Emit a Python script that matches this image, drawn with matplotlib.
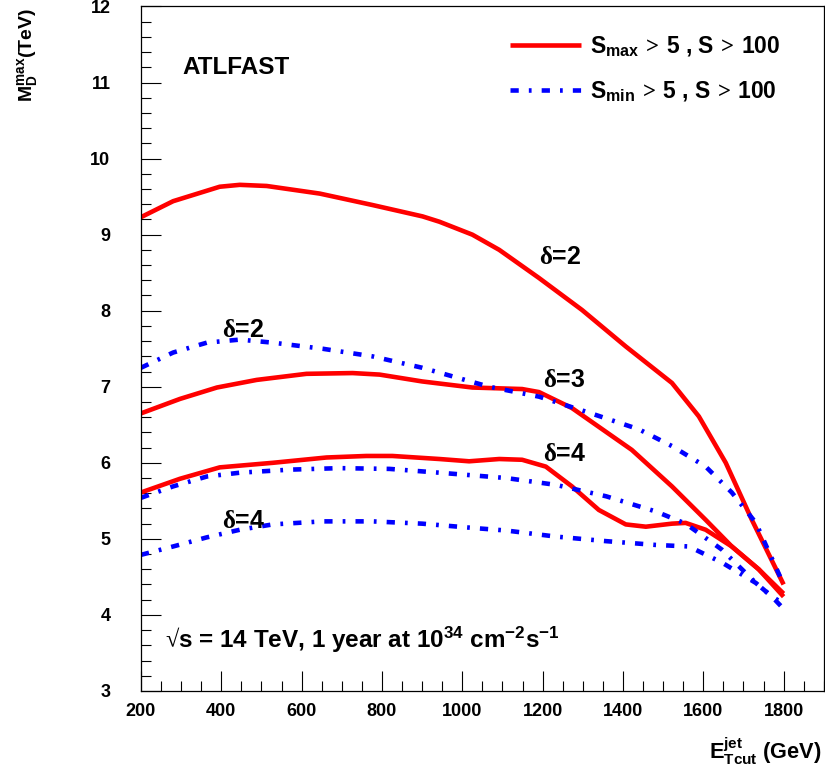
import matplotlib
matplotlib.use('Agg')
import matplotlib.pyplot as plt
from matplotlib.ticker import MultipleLocator

plt.rcParams['font.family'] = ['Liberation Sans', 'DejaVu Sans']
plt.rcParams['font.weight'] = 'bold'
plt.rcParams['mathtext.fontset'] = 'custom'
plt.rcParams['mathtext.rm'] = 'Liberation Serif'
plt.rcParams['mathtext.bf'] = 'Liberation Sans:bold'
plt.rcParams['mathtext.it'] = 'Liberation Sans:bold'

# S_max > 5 , S > 100 (solid red)
x_d2_max = [200, 280, 396, 446, 513, 645, 776, 901, 943, 1025, 1092, 1191, 1298, 1407, 1522, 1589, 1656, 1721, 1800]
y_d2_max = [9.23, 9.44, 9.63, 9.655, 9.64, 9.54, 9.39, 9.24, 9.17, 9.0, 8.80, 8.43, 8.01, 7.53, 7.05, 6.61, 6.0, 5.25, 4.40]

x_d3_max = [200, 297, 389, 488, 612, 727, 794, 900, 1025, 1149, 1191, 1273, 1422, 1522, 1606, 1671, 1738, 1800]
y_d3_max = [6.65, 6.84, 6.99, 7.09, 7.17, 7.18, 7.16, 7.07, 6.99, 6.97, 6.93, 6.72, 6.17, 5.69, 5.25, 4.90, 4.60, 4.28]

x_d4_max = [200, 297, 396, 528, 662, 761, 826, 943, 1017, 1092, 1149, 1208, 1273, 1340, 1407, 1457, 1522, 1556, 1606, 1671, 1738, 1800]
y_d4_max = [5.61, 5.79, 5.94, 6.0, 6.07, 6.09, 6.09, 6.05, 6.02, 6.05, 6.04, 5.95, 5.69, 5.38, 5.19, 5.16, 5.20, 5.21, 5.12, 4.90, 4.60, 4.24]

# S_min > 5 , S > 100 (blue dash-dot)
x_d2_min = [200, 280, 364, 446, 528, 652, 776, 900, 1067, 1191, 1315, 1440, 1522, 1606, 1671, 1731, 1800]
y_d2_min = [7.25, 7.45, 7.58, 7.62, 7.58, 7.50, 7.40, 7.25, 7.0, 6.87, 6.66, 6.44, 6.22, 5.95, 5.61, 5.21, 4.40]

x_d3_min = [200, 280, 364, 446, 570, 694, 819, 943, 1109, 1233, 1358, 1482, 1556, 1646, 1731, 1771, 1800]
y_d3_min = [5.54, 5.69, 5.82, 5.87, 5.91, 5.93, 5.92, 5.87, 5.80, 5.71, 5.56, 5.36, 5.20, 4.86, 4.42, 4.24, 4.15]

x_d4_min = [200, 280, 364, 446, 528, 652, 776, 900, 1035, 1109, 1233, 1358, 1482, 1564, 1646, 1731, 1771, 1800]
y_d4_min = [4.79, 4.90, 5.02, 5.12, 5.19, 5.23, 5.23, 5.20, 5.14, 5.11, 5.03, 4.97, 4.92, 4.90, 4.69, 4.42, 4.24, 4.08]

fig = plt.figure(figsize=(8.25, 7.82), dpi=100)
ax = fig.add_axes([0.1709, 0.1164, 1.0 - 0.1709 - 0.0015, 0.9917 - 0.1164])

red_kw = dict(color='#ff0000', linewidth=3.3, solid_capstyle='butt')
blue_kw = dict(color='#0000ff', linewidth=3.3, dashes=(1.8, 2.2, 0.6, 2.2), dash_capstyle='butt')

ax.plot(x_d2_max, y_d2_max, label=r'S$_{\mathbf{max}}\,\mathrm{>}\,$5 , S$\,\mathrm{>}\,$100', **red_kw)
ax.plot(x_d3_max, y_d3_max, **red_kw)
ax.plot(x_d4_max, y_d4_max, **red_kw)
ax.plot(x_d2_min, y_d2_min, label=r'S$_{\mathbf{min}}\,\mathrm{>}\,$5 , S$\,\mathrm{>}\,$100', **blue_kw)
ax.plot(x_d3_min, y_d3_min, **blue_kw)
ax.plot(x_d4_min, y_d4_min, **blue_kw)

ax.set_xlim(200, 1900)
ax.set_ylim(3, 12)
ax.yaxis.set_major_locator(MultipleLocator(1))
ax.yaxis.set_minor_locator(MultipleLocator(0.2))
ax.xaxis.set_minor_locator(MultipleLocator(50))
ax.set_xticks([200, 400, 600, 800, 1000, 1200, 1400, 1600, 1800])
ax.tick_params(which='both', direction='in', width=0.8, top=False, right=False)
ax.tick_params(which='major', length=14.5)
ax.tick_params(which='minor', length=7.2)
ax.tick_params(axis='x', which='major', pad=9, labelsize=13)
ax.tick_params(axis='y', which='major', pad=22, labelsize=13)
for lab in ax.get_xticklabels() + ax.get_yticklabels():
    lab.set_fontweight('bold')
for s in ax.spines.values():
    s.set_linewidth(0.9)

leg = ax.legend(loc='upper right', bbox_to_anchor=(0.937, 0.960), frameon=False,
                borderpad=0, borderaxespad=0,
                fontsize=16.5, handlelength=3.1, labelspacing=0.89, handletextpad=0.4)

ax.text(304, 11.2, 'ATLFAST', fontsize=17.5, fontweight='bold', va='center', ha='left')

d_kw = dict(fontsize=18, fontweight='bold', va='center', ha='left')
ax.text(1191, 8.70, r'$\mathrm{\delta}$=2', **d_kw)
ax.text(401, 7.75, r'$\mathrm{\delta}$=2', **d_kw)
ax.text(1201, 7.09, r'$\mathrm{\delta}$=3', **d_kw)
ax.text(1201, 6.11, r'$\mathrm{\delta}$=4', **d_kw)
ax.text(401, 5.24, r'$\mathrm{\delta}$=4', **d_kw)

ax.text(260, 3.675, '$\\mathrm{\u221a}$s = 14 TeV, 1 year at 10$^{\\mathbf{34}}$ cm$^{\\mathbf{-2}}$s$^{\\mathbf{-1}}$',
        fontsize=17.5, fontweight='bold', va='center', ha='left')

fig.text(27 / 825, 1 - 8 / 782, r'M$_{\mathbf{D}}^{\mathbf{max}}$(TeV)', rotation=90,
         fontsize=14, fontweight='bold', ha='center', va='top')
fig.text(822 / 825, 1 - 759 / 782, r'E$_{\mathbf{Tcut}}^{\mathbf{jet}}$ (GeV)',
         fontsize=15.7, fontweight='bold', ha='right', va='baseline')

fig.savefig('out.png', dpi=100)
